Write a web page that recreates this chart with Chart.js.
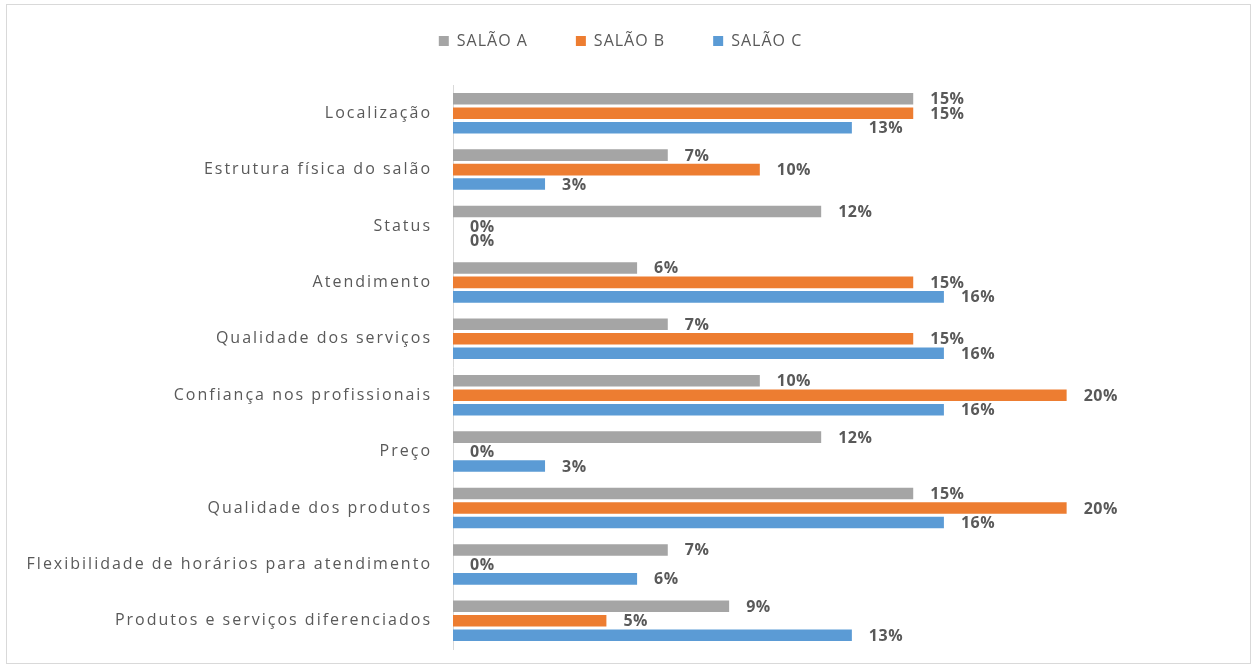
<!DOCTYPE html>
<html>
<head>
<meta charset="utf-8">
<script src="https://cdn.jsdelivr.net/npm/chart.js@4.4.1/dist/chart.umd.min.js"></script>
<style>
  body { margin: 0; background: #fff; }
  #wrap { position: relative; width: 1254px; height: 668px; }
  #frame { position: absolute; left: 6px; top: 4px; width: 1243px; height: 658px; border: 1px solid #d9d9d9; pointer-events: none; }
</style>
</head>
<body>
<div id="wrap">
  <canvas id="bars" width="1254" height="668"></canvas>
  <div id="frame"></div>
</div>
<script>
let categories = [
    'Localização',
    'Estrutura física do salão',
    'Status',
    'Atendimento',
    'Qualidade dos serviços',
    'Confiança nos profissionais',
    'Preço',
    'Qualidade dos produtos',
    'Flexibilidade de horários para atendimento',
    'Produtos e serviços diferenciados'
]
let salao_a = [15, 7, 12, 6, 7, 10, 12, 15, 7, 9]
let salao_b = [15, 10, 0, 15, 15, 20, 0, 20, 0, 5]
let salao_c = [13, 3, 0, 16, 16, 16, 3, 16, 6, 13]
let series_names = ['SALÃO A', 'SALÃO B', 'SALÃO C']

const textColor = '#595959'
const fontFamily = "'Open Sans', 'Noto Sans', sans-serif"

// draws the "15%" labels right after each bar end
const barLabels = {
    id: 'barLabels',
    afterDatasetsDraw(chart) {
        const ctx = chart.ctx
        ctx.save()
        ctx.font = 'bold 16px ' + fontFamily
        ctx.letterSpacing = '0.5px'
        ctx.fillStyle = textColor
        ctx.textAlign = 'left'
        ctx.textBaseline = 'middle'
        chart.data.datasets.forEach((ds, i) => {
            chart.getDatasetMeta(i).data.forEach((bar, j) => {
                ctx.fillText(ds.data[j] + '%', bar.x + 17, bar.y + 1)
            })
        })
        ctx.restore()
    }
}

// wide spacing on the category names and legend, like the original
const spacing = {
    id: 'spacing',
    beforeInit(chart) {
        const fit = chart.legend.fit
        chart.legend.fit = function () {
            fit.bind(chart.legend)()
            this.height += 26
        }
        const draw = chart.legend.draw
        chart.legend.draw = function () {
            this.ctx.save()
            this.ctx.translate(46, 0)
            this.ctx.letterSpacing = '1px'
            draw.call(this)
            this.ctx.restore()
        }
    },
    beforeDraw(chart) {
        const s = chart.scales.y
        if (!s._spaced) {
            const orig = s.drawLabels
            s.drawLabels = function (area) {
                this.ctx.save()
                this.ctx.translate(-13, 0)
                this.ctx.letterSpacing = '2px'
                orig.call(this, area)
                this.ctx.restore()
            }
            s._spaced = true
        }
    }
}

const c = document.getElementById('bars').getContext('2d')
new Chart(c, {
    type: 'bar',
    data: {
        labels: categories,
        datasets: [{
            label: series_names[0],
            data: salao_a,
            backgroundColor: '#a5a5a5'
        }, {
            label: series_names[1],
            data: salao_b,
            backgroundColor: '#ed7d31'
        }, {
            label: series_names[2],
            data: salao_c,
            backgroundColor: '#5b9bd5'
        }]
    },
    options: {
        indexAxis: 'y',
        responsive: false,
        animation: false,
        categoryPercentage: 0.77,
        barPercentage: 0.8,
        layout: { padding: { left: 0, right: 126, top: -15, bottom: 19 } },
        scales: {
            x: {
                display: false,
                min: 0,
                max: 22
            },
            y: {
                afterFit(scale) { scale.width = 453 },
                grid: { display: false },
                border: { color: '#d9d9d9' },
                ticks: {
                    color: textColor,
                    padding: 0,
                    font: { family: fontFamily, size: 16 }
                }
            }
        },
        plugins: {
            tooltip: { enabled: false },
            legend: {
                position: 'top',
                labels: {
                    color: textColor,
                    boxWidth: 10,
                    boxHeight: 10,
                    padding: 48,
                    font: { family: fontFamily, size: 16 }
                }
            }
        }
    },
    plugins: [barLabels, spacing]
})
</script>
</body>
</html>
